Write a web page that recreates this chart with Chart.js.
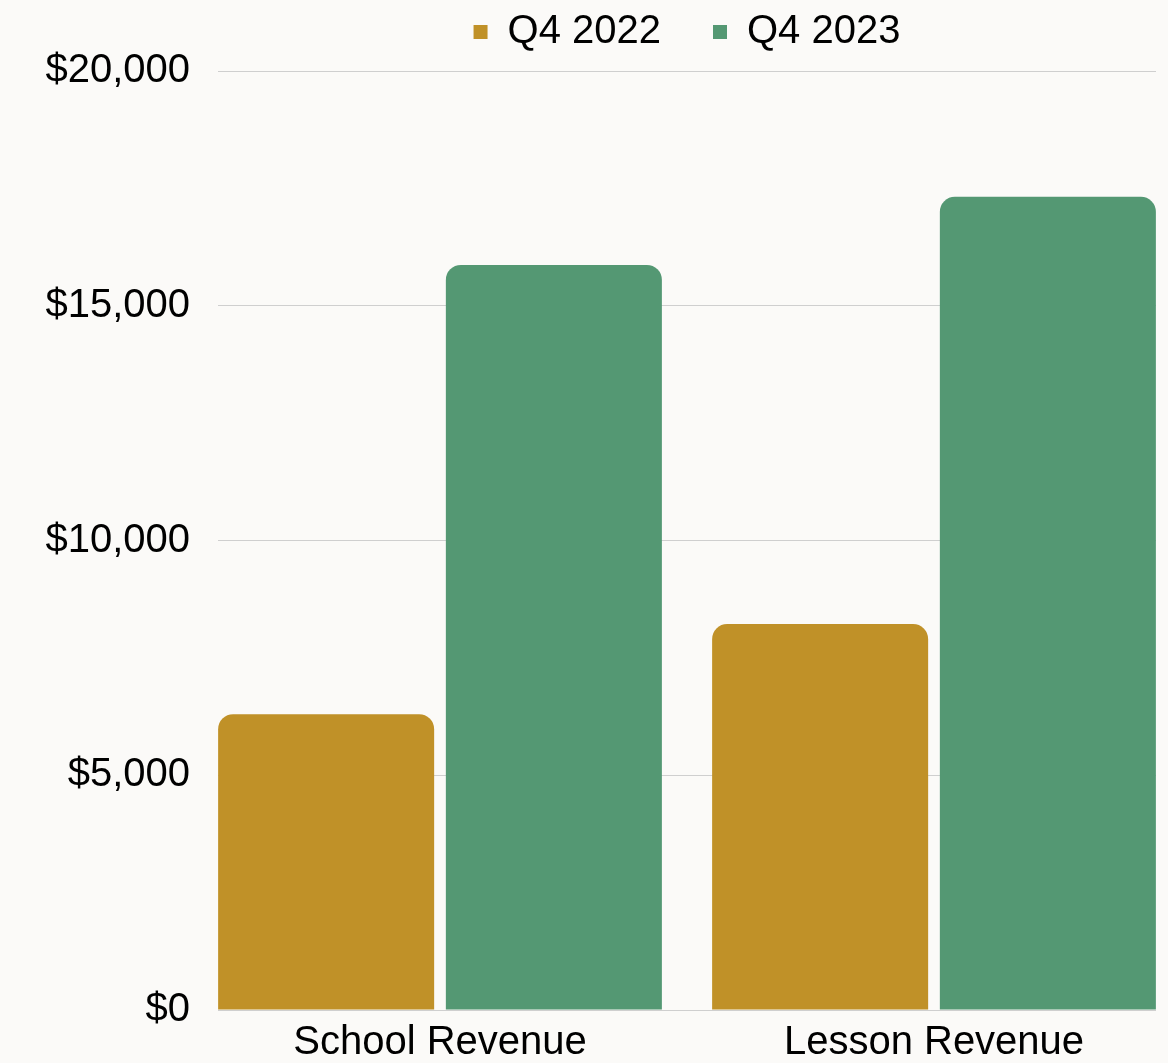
<!DOCTYPE html>
<html>
<head>
<meta charset="utf-8">
<script src="https://cdn.jsdelivr.net/npm/chart.js@4.4.1/dist/chart.umd.min.js"></script>
<style>
  html, body { margin: 0; padding: 0; background: #FBFAF8; }
  #wrap { width: 1168px; height: 1063px; position: relative; }
</style>
</head>
<body>
<div id="wrap"><canvas id="c"></canvas></div>
<script>
// ---- data ----
const categories = ['School Revenue', 'Lesson Revenue'];
const seriesNames = ['Q4 2022', 'Q4 2023'];
const q4_2022 = [6300, 8220];
const q4_2023 = [15870, 17320];
const yTicks = [0, 5000, 10000, 15000, 20000];

// ---- style ----
const FONT = "'Liberation Sans', Arial, Helvetica, sans-serif";
const GOLD = '#C09128';
const GREEN = '#549873';
const GRID = '#CFCFCF';

Chart.defaults.font.family = FONT;
Chart.defaults.color = '#000000';

// widen the category scale slightly past the plot area so groups sit flush with its edges
const widenX = {
  id: 'widenX',
  afterLayout(chart) {
    const s = chart.scales.x;
    s.left -= 25;
    s.right += 25;
    s.configure();
  }
};

new Chart(document.getElementById('c'), {
  type: 'bar',
  data: {
    labels: categories,
    datasets: [
      { label: seriesNames[0], data: q4_2022, backgroundColor: GOLD },
      { label: seriesNames[1], data: q4_2023, backgroundColor: GREEN }
    ]
  },
  options: {
    responsive: true,
    maintainAspectRatio: false,
    animation: false,
    layout: { padding: { top: -40, right: 12, bottom: 0, left: 0 } },
    datasets: {
      bar: {
        categoryPercentage: 0.922,
        barPercentage: 0.9486,
        borderRadius: 15,
        borderSkipped: 'start',
        borderWidth: 0
      }
    },
    plugins: {
      legend: {
        position: 'top',
        align: 'center',
        fullSize: false,
        labels: {
          boxWidth: 14,
          boxHeight: 14,
          padding: 52,
          color: '#000000',
          font: { size: 40, family: FONT }
        }
      },
      subtitle: {
        display: true,
        text: '',
        position: 'top',
        weight: 10,
        fullSize: false,
        padding: 0,
        font: { size: 9, lineHeight: 1 }
      },
      tooltip: { enabled: false }
    },
    scales: {
      x: {
        offset: true,
        grid: { display: false, drawTicks: false },
        border: { display: false },
        ticks: {
          padding: 13,
          maxRotation: 0,
          autoSkip: false,
          color: '#000000',
          font: { size: 40, family: FONT, lineHeight: 1 }
        },
        afterFit(s) { s.height = 53; }
      },
      y: {
        min: 0,
        max: 20000,
        grid: { color: GRID, lineWidth: 1, drawTicks: false },
        border: { display: false },
        ticks: {
          padding: 28,
          color: '#000000',
          font: { size: 40, family: FONT },
          callback: v => '$' + Number(v).toLocaleString('en-US')
        },
        afterBuildTicks(s) { s.ticks = yTicks.map(v => ({ value: v })); },
        afterFit(s) { s.width = 218; }
      }
    }
  },
  plugins: [widenX]
});
</script>
</body>
</html>
